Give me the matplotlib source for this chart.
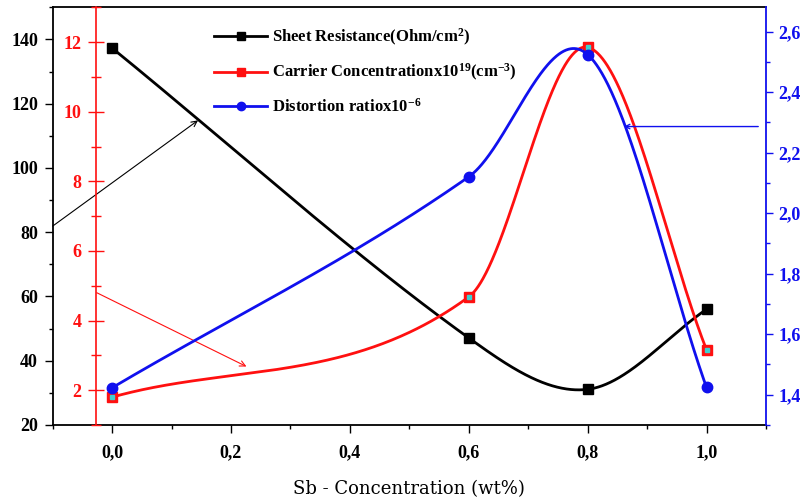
import numpy as np
import matplotlib
matplotlib.use("Agg")
import matplotlib.pyplot as plt
from matplotlib.lines import Line2D
from matplotlib.ticker import MultipleLocator, FuncFormatter

# ---------------- data ----------------
sb_conc = [0.0, 0.6, 0.8, 1.0]
sheet_resistance = [137.3, 47.1, 31.1, 56.0]
carrier_conc = [1.80, 4.68, 11.85, 3.16]
distortion_ratio = [1.423, 2.120, 2.524, 1.424]

legend_labels = [
    r"Sheet Resistance(Ohm/cm$^{2}$)",
    r"Carrier Concentrationx10$^{19}$(cm$^{-3}$)",
    r"Distortion ratiox10$^{-6}$",
]
x_label = "Sb - Concentration (wt%)"

plt.rcParams['mathtext.fontset'] = 'custom'
plt.rcParams['mathtext.rm'] = 'Liberation Serif:bold'
plt.rcParams['mathtext.bf'] = 'Liberation Serif:bold'
plt.rcParams['mathtext.it'] = 'Liberation Serif:bold'
plt.rcParams['mathtext.default'] = 'bf'
plt.rcParams['axes.unicode_minus'] = True


def hermite_spline(x, y, n=200):
    """Cubic Hermite spline (Catmull-Rom slopes inside, chord slopes at the ends)."""
    x = np.asarray(x, float)
    y = np.asarray(y, float)
    m = np.empty_like(y)
    m[1:-1] = (y[2:] - y[:-2]) / (x[2:] - x[:-2])
    m[0] = (y[1] - y[0]) / (x[1] - x[0])
    m[-1] = (y[-1] - y[-2]) / (x[-1] - x[-2])
    xs, ys = [], []
    t = np.linspace(0, 1, n)
    for i in range(len(x) - 1):
        h = x[i + 1] - x[i]
        h00 = 2 * t**3 - 3 * t**2 + 1
        h10 = t**3 - 2 * t**2 + t
        h01 = -2 * t**3 + 3 * t**2
        h11 = t**3 - t**2
        xs.append(x[i] + t * h)
        ys.append(h00 * y[i] + h10 * h * m[i] + h01 * y[i + 1] + h11 * h * m[i + 1])
    return np.concatenate(xs), np.concatenate(ys)


comma = FuncFormatter(lambda v, p: f"{v:.1f}".replace('.', ','))
tickfont = dict(family='Liberation Serif', weight='bold', size=13)

fig = plt.figure(figsize=(8.09, 4.99), dpi=100)
ax = fig.add_axes([0.0651, 0.1483, 0.9468 - 0.0651, 0.9854 - 0.1483])
ax2 = ax.twinx()
ax3 = ax.twinx()

# ---------- main (black) axis ----------
ax.set_xlim(-0.1, 1.1)
ax.set_ylim(20, 150)
xs, ys = hermite_spline(sb_conc, sheet_resistance)
ax.plot(xs, ys, color='black', lw=2.0, zorder=3)
ax.plot(sb_conc, sheet_resistance, ls='none', marker='s', ms=7.5, color='black', zorder=4)
ax.xaxis.set_major_locator(MultipleLocator(0.2))
ax.xaxis.set_minor_locator(MultipleLocator(0.1))
ax.xaxis.set_major_formatter(comma)
ax.yaxis.set_major_locator(MultipleLocator(20))
ax.yaxis.set_minor_locator(MultipleLocator(10))
ax.tick_params(axis='both', which='major', direction='out', length=5.5, width=1.0, pad=5)
ax.tick_params(axis='x', which='major', pad=8)
ax.tick_params(axis='both', which='minor', direction='out', length=3, width=1.0)
ax.tick_params(axis='y', which='both', right=False)
ax.tick_params(axis='x', which='both', top=False)
for lab in ax.get_xticklabels() + ax.get_yticklabels():
    lab.set_fontproperties(tickfont)
ax.spines['right'].set_visible(False)
for s in ['left', 'bottom', 'top']:
    ax.spines[s].set_linewidth(1.3)
ax.set_xlabel(x_label, family='DejaVu Serif', size=13, labelpad=14)

# ---------- red axis ----------
red = '#ff1010'
ax2.set_ylim(1, 13)
xs, ys = hermite_spline(sb_conc, carrier_conc)
ax2.plot(xs, ys, color=red, lw=2.0, zorder=3)
ax2.plot(sb_conc, carrier_conc, ls='none', marker='s', ms=7, color=red, zorder=4)
ax2.plot(sb_conc, carrier_conc, ls='none', marker='s', ms=2.5, color='#40d0d0', zorder=5)
for s in ['right', 'top', 'bottom']:
    ax2.spines[s].set_visible(False)
ax2.spines['left'].set_visible(True)
ax2.spines['left'].set_position(('axes', 0.0603))
ax2.spines['left'].set_color(red)
ax2.spines['left'].set_linewidth(1.2)
ax2.yaxis.set_ticks_position('left')
ax2.yaxis.set_label_position('left')
ax2.yaxis.set_major_locator(MultipleLocator(2))
ax2.yaxis.set_minor_locator(MultipleLocator(1))
ax2.tick_params(axis='y', which='major', direction='inout', length=11.5, width=1.0, colors=red, pad=4.5)
ax2.tick_params(axis='y', which='minor', direction='inout', length=7, width=1.0, colors=red)
for lab in ax2.get_yticklabels():
    lab.set_fontproperties(tickfont)
    lab.set_color(red)

# ---------- blue axis ----------
blue = '#1010ee'
ax3.set_ylim(1.3, 2.68)
xs, ys = hermite_spline(sb_conc, distortion_ratio)
ax3.plot(xs, ys, color=blue, lw=2.0, zorder=3)
ax3.plot(sb_conc, distortion_ratio, ls='none', marker='o', ms=7.5, color=blue, zorder=4)
for s in ['left', 'top', 'bottom']:
    ax3.spines[s].set_visible(False)
ax3.spines['right'].set_color(blue)
ax3.spines['right'].set_linewidth(1.3)
ax3.yaxis.set_major_locator(MultipleLocator(0.2))
ax3.yaxis.set_minor_locator(MultipleLocator(0.1))
ax3.yaxis.set_major_formatter(comma)
ax3.tick_params(axis='y', which='major', direction='out', length=5, width=1.0, colors=blue, pad=4)
ax3.tick_params(axis='y', which='minor', direction='out', length=3, width=1.0, colors=blue)
for lab in ax3.get_yticklabels():
    lab.set_fontproperties(tickfont)
    lab.set_color(blue)

# ---------- annotation arrows ----------
ax.annotate('', xy=(0.1445, 114.8), xytext=(-0.1, 81.9),
            arrowprops=dict(arrowstyle='->', color='black', lw=0.8, shrinkA=0, shrinkB=0,
                            mutation_scale=10), zorder=6)
ax2.annotate('', xy=(0.226, 2.68), xytext=(-0.0258, 4.80),
             arrowprops=dict(arrowstyle='->', color=red, lw=0.8, shrinkA=0, shrinkB=0,
                             mutation_scale=10), zorder=6)
ax3.annotate('', xy=(0.861, 2.286), xytext=(1.087, 2.286),
             arrowprops=dict(arrowstyle='->', color=blue, lw=1.0, shrinkA=0, shrinkB=0,
                             mutation_scale=8), zorder=6)

# ---------- legend ----------
handles = [
    Line2D([], [], color='black', lw=2.0, marker='s', ms=6),
    Line2D([], [], color=red, lw=2.0, marker='s', ms=6),
    Line2D([], [], color=blue, lw=2.0, marker='o', ms=6),
]
leg = ax3.legend(handles, legend_labels, loc='upper left',
                 bbox_to_anchor=(214 / 809, 1 - 27 / 499), bbox_transform=fig.transFigure,
                 frameon=False, borderpad=0, borderaxespad=0, handlelength=3.2,
                 handletextpad=0.3, labelspacing=0.85, numpoints=1,
                 prop=dict(family='Liberation Serif', weight='bold', size=12))

fig.savefig('out.png', dpi=100)
